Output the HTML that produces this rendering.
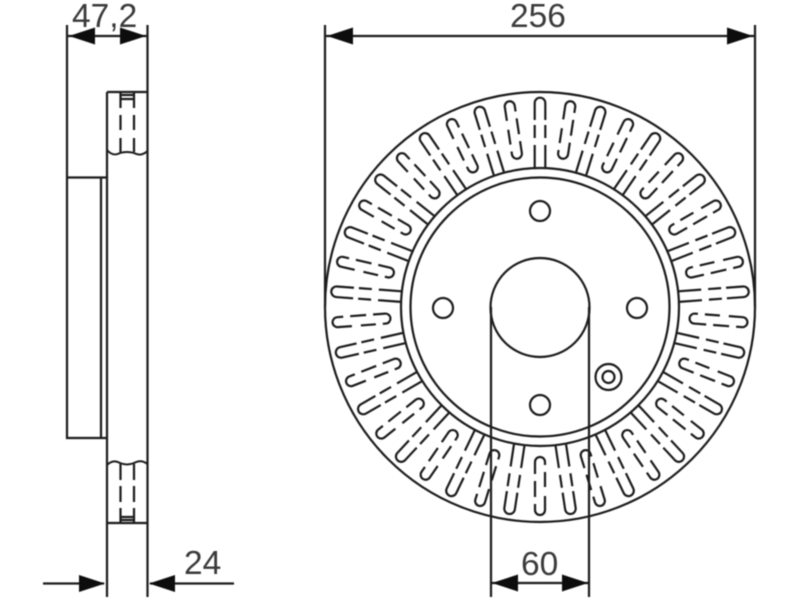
<!DOCTYPE html>
<html>
<head>
<meta charset="utf-8">
<style>
html,body{margin:0;padding:0;background:#fff;width:800px;height:600px;overflow:hidden}
svg{display:block}
text{font-family:"Liberation Sans",Arial,sans-serif;font-size:33.5px;fill:#3a3a3a}
</style>
</head>
<body>
<svg width="800" height="600" viewBox="0 0 800 600" xmlns="http://www.w3.org/2000/svg">
<defs>
<filter id="s" x="0" y="0" width="100%" height="100%" filterUnits="userSpaceOnUse"><feGaussianBlur stdDeviation="0.4"/></filter>
<path id="a" d="M-5.3,-187V-204A5.3,5.3 0 0 1 5.3,-204V-187M-5.3,-182V-169M5.3,-182V-169M-5.3,-162V-139M5.3,-162V-139"/>
<path id="b" d="M-5,-189V-203A5,5 0 0 1 5,-203V-197M5,-190V-174M-5,-180V-165M5,-167V-155A5,5 0 0 1 -5,-155V-158"/>
</defs>
<g filter="url(#s)">
<g fill="none" stroke="#1c1c1c" stroke-width="2.2">
<!-- side view -->
<path d="M67,25V438H106M147.5,25V597M107,92V597M107,92H147.5M67,177.5H107M101,177.5V438M107,523H147.5"/>
<path stroke-width="1.9" d="M107,150Q113,157 120,153Q127,151 134,153Q141,157 147.5,151M107,465Q113,459 120,463Q127,466 134,463Q141,459 147.5,464"/>
<path stroke-width="2.2" d="M120.5,92V108M120.5,115V130M120.5,138V152M134,92V108M134,115V130M134,138V152M120.5,95H134M120.5,99H134M120.5,464V480M120.5,486V502M120.5,508V523M134,464V480M134,486V502M134,508V523M120.5,517H134M120.5,520H134"/>
<!-- front view -->
<circle cx="540" cy="307" r="215"/>
<circle cx="540" cy="307" r="139"/>
<circle cx="540" cy="307" r="129.500"/>
<circle cx="540" cy="307.500" r="49.500"/>
<circle cx="540" cy="211" r="10"/>
<circle cx="540" cy="405" r="10"/>
<circle cx="443" cy="308" r="10"/>
<circle cx="637" cy="308" r="10"/>
<circle cx="608.500" cy="377" r="13"/>
<circle cx="608.500" cy="377" r="6"/>
<g transform="translate(540 307)" stroke-width="2.2">
<use href="#a" transform="rotate(0)"/><use href="#a" transform="rotate(17.143)"/><use href="#a" transform="rotate(34.286)"/><use href="#a" transform="rotate(51.429)"/><use href="#a" transform="rotate(68.571)"/><use href="#a" transform="rotate(85.714)"/><use href="#a" transform="rotate(102.857)"/><use href="#a" transform="rotate(120)"/><use href="#a" transform="rotate(137.143)"/><use href="#a" transform="rotate(154.286)"/><use href="#a" transform="rotate(171.429)"/><use href="#a" transform="rotate(188.571)"/><use href="#a" transform="rotate(205.714)"/><use href="#a" transform="rotate(222.857)"/><use href="#a" transform="rotate(240)"/><use href="#a" transform="rotate(257.143)"/><use href="#a" transform="rotate(274.286)"/><use href="#a" transform="rotate(291.429)"/><use href="#a" transform="rotate(308.571)"/><use href="#a" transform="rotate(325.714)"/><use href="#a" transform="rotate(342.857)"/>
<use href="#b" transform="rotate(8.571)"/><use href="#b" transform="rotate(25.714)"/><use href="#b" transform="rotate(42.857)"/><use href="#b" transform="rotate(60)"/><use href="#b" transform="rotate(77.143)"/><use href="#b" transform="rotate(94.286)"/><use href="#b" transform="rotate(111.429)"/><use href="#b" transform="rotate(128.571)"/><use href="#b" transform="rotate(145.714)"/><use href="#b" transform="rotate(162.857)"/><use href="#b" transform="rotate(180)"/><use href="#b" transform="rotate(197.143)"/><use href="#b" transform="rotate(214.286)"/><use href="#b" transform="rotate(231.429)"/><use href="#b" transform="rotate(248.571)"/><use href="#b" transform="rotate(265.714)"/><use href="#b" transform="rotate(282.857)"/><use href="#b" transform="rotate(300)"/><use href="#b" transform="rotate(317.143)"/><use href="#b" transform="rotate(334.286)"/><use href="#b" transform="rotate(351.429)"/>
</g>
<!-- dimension lines -->
<path d="M325,25V307M755,25V307M491,307V597M589,307V597M325,36H755M67,36H147M491,583H589M43,583.500H104M150,583.500H234"/>
</g>
<g fill="#0c0c0c" stroke="none">
<path d="M69,36L95,27.500V44.500ZM146,36L120,27.500V44.500Z"/>
<path d="M327,36L353,27.500V44.500ZM753,36L727,27.500V44.500Z"/>
<path d="M492,583L518,574.500V591.500ZM588,583L562,574.500V591.500Z"/>
<path d="M105,583.500L79,575V592ZM149,583.500L175,575V592Z"/>
</g>
<text x="72" y="27">47,2</text>
<text x="510" y="27">256</text>
<text x="521" y="575">60</text>
<text x="184" y="574">24</text>
</g>
</svg>
</body>
</html>
